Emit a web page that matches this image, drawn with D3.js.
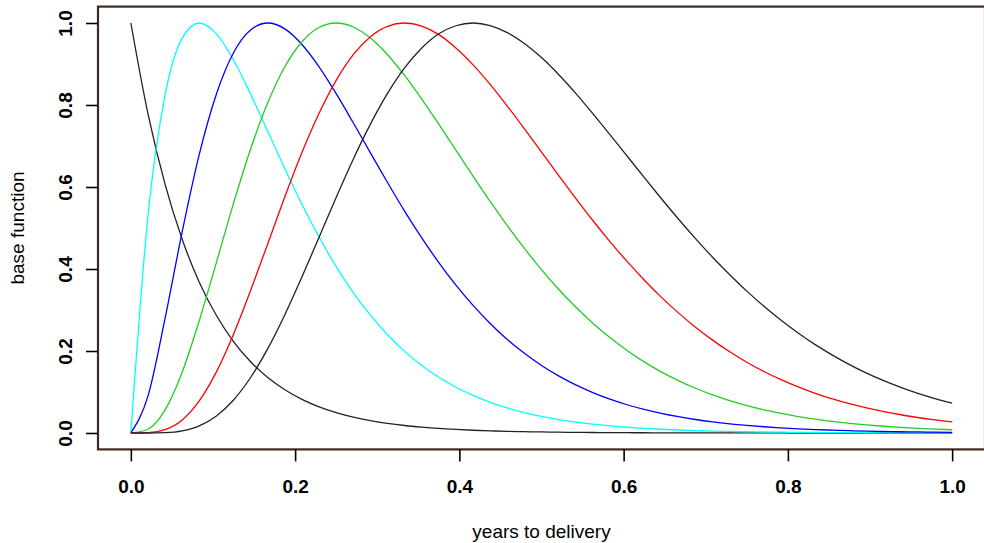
<!DOCTYPE html>
<html>
<head>
<meta charset="utf-8">
<script src="https://cdn.jsdelivr.net/npm/d3@7"></script>
<style>
  body { margin: 0; background: #fff; }
  text { font-family: "Liberation Sans", Arial, sans-serif; }
</style>
</head>
<body>
<div id="chart"></div>
<script>
const width = 984, height = 543;

// years to delivery (x) shared by all curves
const years = [0, 0.0208, 0.0417, 0.0625, 0.0833, 0.1042, 0.125, 0.1458, 0.1667, 0.1875,
  0.2083, 0.2292, 0.25, 0.2708, 0.2917, 0.3125, 0.3333, 0.3542, 0.375, 0.3958,
  0.4167, 0.4375, 0.4583, 0.4792, 0.5, 0.5208, 0.5417, 0.5625, 0.5833, 0.6042,
  0.625, 0.6458, 0.6667, 0.6875, 0.7083, 0.7292, 0.75, 0.7708, 0.7917, 0.8125,
  0.8333, 0.8542, 0.875, 0.8958, 0.9167, 0.9375, 0.9583, 0.9792, 1];

const base0 = [1, 0.7788, 0.6065, 0.4724, 0.3679, 0.2865, 0.2231, 0.1738, 0.1353, 0.1054,
  0.0821, 0.0639, 0.0498, 0.0388, 0.0302, 0.0235, 0.0183, 0.0143, 0.0111, 0.0087,
  0.0067, 0.0053, 0.0041, 0.0032, 0.0025, 0.0019, 0.0015, 0.0012, 0.0009, 0.0007,
  0.0006, 0.0004, 0.0003, 0.0003, 0.0002, 0.0002, 0.0001, 0.0001, 0.0001, 0,
  0, 0, 0, 0, 0, 0, 0, 0, 0];
const base1 = [0, 0.5293, 0.8244, 0.963, 1, 0.9735, 0.9098, 0.8266, 0.7358, 0.6446,
  0.5578, 0.4779, 0.406, 0.3426, 0.2873, 0.2397, 0.1991, 0.1648, 0.1359, 0.1117,
  0.0916, 0.0749, 0.0611, 0.0497, 0.0404, 0.0328, 0.0266, 0.0215, 0.0174, 0.014,
  0.0113, 0.0091, 0.0073, 0.0059, 0.0047, 0.0038, 0.003, 0.0024, 0.0019, 0.0015,
  0.0012, 0.001, 0.0008, 0.0006, 0.0005, 0.0004, 0.0003, 0.0003, 0.0002];
const base2 = [0, 0.0899, 0.2801, 0.4908, 0.6796, 0.827, 0.9274, 0.983, 1, 0.9857,
  0.9477, 0.8931, 0.8277, 0.7566, 0.6834, 0.611, 0.5413, 0.4759, 0.4156, 0.3606,
  0.3112, 0.2672, 0.2283, 0.1944, 0.1648, 0.1393, 0.1173, 0.0986, 0.0825, 0.0689,
  0.0575, 0.0478, 0.0397, 0.0329, 0.0272, 0.0224, 0.0185, 0.0152, 0.0125, 0.0102,
  0.0084, 0.0069, 0.0056, 0.0046, 0.0037, 0.003, 0.0025, 0.002, 0.0016];
const base3 = [0, 0.0091, 0.0564, 0.1483, 0.2737, 0.4163, 0.5602, 0.6928, 0.8054, 0.8932,
  0.9542, 0.9891, 1, 0.9903, 0.9633, 0.9227, 0.8721, 0.8146, 0.7532, 0.6897,
  0.6265, 0.5648, 0.5058, 0.4501, 0.3984, 0.3507, 0.3072, 0.2679, 0.2327, 0.2013,
  0.1736, 0.1492, 0.1278, 0.1091, 0.093, 0.079, 0.0669, 0.0566, 0.0477, 0.0402,
  0.0338, 0.0283, 0.0237, 0.0198, 0.0165, 0.0138, 0.0115, 0.0095, 0.0079];
const base4 = [0, 0.0007, 0.0081, 0.0319, 0.0785, 0.1492, 0.2409, 0.3476, 0.4618, 0.576,
  0.6839, 0.7797, 0.86, 0.9227, 0.9666, 0.992, 1, 0.9924, 0.9716, 0.9391,
  0.898, 0.8501, 0.7974, 0.742, 0.6852, 0.6283, 0.5724, 0.5183, 0.4669, 0.4185,
  0.3733, 0.3314, 0.293, 0.2581, 0.2265, 0.1981, 0.1727, 0.15, 0.13, 0.1124,
  0.0968, 0.0832, 0.0714, 0.0611, 0.0522, 0.0445, 0.0378, 0.0321, 0.0272];
const base5 = [0, 0, 0.0009, 0.0053, 0.0175, 0.0415, 0.0805, 0.1354, 0.2057, 0.2886,
  0.3807, 0.4775, 0.5745, 0.6679, 0.7534, 0.8284, 0.8907, 0.9392, 0.9737, 0.9933,
  1, 0.9938, 0.9766, 0.9501, 0.9156, 0.8744, 0.8284, 0.779, 0.7278, 0.6756,
  0.6233, 0.572, 0.522, 0.4742, 0.4288, 0.3861, 0.346, 0.3091, 0.2751, 0.244,
  0.2156, 0.19, 0.1669, 0.1462, 0.1277, 0.1113, 0.0967, 0.0839, 0.0726];

const curves = [base0, base1, base2, base3, base4, base5];
const curveColors = ["#222222", "#00ffff", "#0000ff", "#22cc22", "#ff0000", "#222222"];

const xTicks = [0, 0.2, 0.4, 0.6, 0.8, 1.0];
const yTicks = [0, 0.2, 0.4, 0.6, 0.8, 1.0];

const box = {left: 98, right: 985, top: 6.6, bottom: 449.4};

let svg = d3.select("#chart")
    .append("svg")
    .attr("width", width)
    .attr("height", height);

let x = d3.scaleLinear().domain([-0.04, 1.04]).range([box.left, box.right]);
let y = d3.scaleLinear().domain([-0.04, 1.04]).range([box.bottom, box.top]);

// curves
let line = d3.line()
    .x(function(d) { return x(d[0]); })
    .y(function(d) { return y(d[1]); })
    .curve(d3.curveMonotoneX);

curves.forEach(function(vals, k) {
    svg.append("path")
        .datum(years.map(function(t, i) { return [t, vals[i]]; }))
        .attr("fill", "none")
        .attr("stroke", curveColors[k])
        .attr("stroke-width", 1.3)
        .attr("d", line);
});

// plot box
svg.append("rect")
    .attr("x", box.left)
    .attr("y", box.top)
    .attr("width", box.right - box.left)
    .attr("height", box.bottom - box.top)
    .attr("fill", "none")
    .attr("stroke", "#3f2a20")
    .attr("stroke-width", 2.2);

// x axis
let xAxis = svg.append("g")
    .attr("transform", `translate(0,${box.bottom})`)
    .call(d3.axisBottom(x).tickValues(xTicks).tickFormat(d3.format(".1f")).tickSize(12).tickPadding(18));
xAxis.select(".domain").remove();
xAxis.selectAll("line").attr("stroke", "#000").attr("stroke-width", 1.6);
xAxis.selectAll("text")
    .attr("fill", "#000")
    .style("font-size", "19px")
    .style("font-weight", "bold")
    .style("font-family", "'Liberation Sans', Arial, sans-serif");

// y axis
let yAxis = svg.append("g")
    .attr("transform", `translate(${box.left},0)`)
    .call(d3.axisLeft(y).tickValues(yTicks).tickFormat(d3.format(".1f")).tickSize(12));
yAxis.select(".domain").remove();
yAxis.selectAll("line").attr("stroke", "#000").attr("stroke-width", 1.6);
yAxis.selectAll("text")
    .attr("x", null).attr("dy", null)
    .attr("transform", "translate(-26,0) rotate(-90)")
    .attr("text-anchor", "middle")
    .attr("fill", "#000")
    .style("font-size", "19px")
    .style("font-weight", "bold")
    .style("font-family", "'Liberation Sans', Arial, sans-serif");

// axis titles
svg.append("text")
    .attr("x", (box.left + box.right) / 2)
    .attr("y", 538)
    .style("text-anchor", "middle")
    .style("font-size", "19px")
    .text("years to delivery");

svg.append("text")
    .attr("transform", `translate(24,${(box.top + box.bottom) / 2}) rotate(-90)`)
    .style("text-anchor", "middle")
    .style("font-size", "19px")
    .text("base function");
</script>
</body>
</html>
